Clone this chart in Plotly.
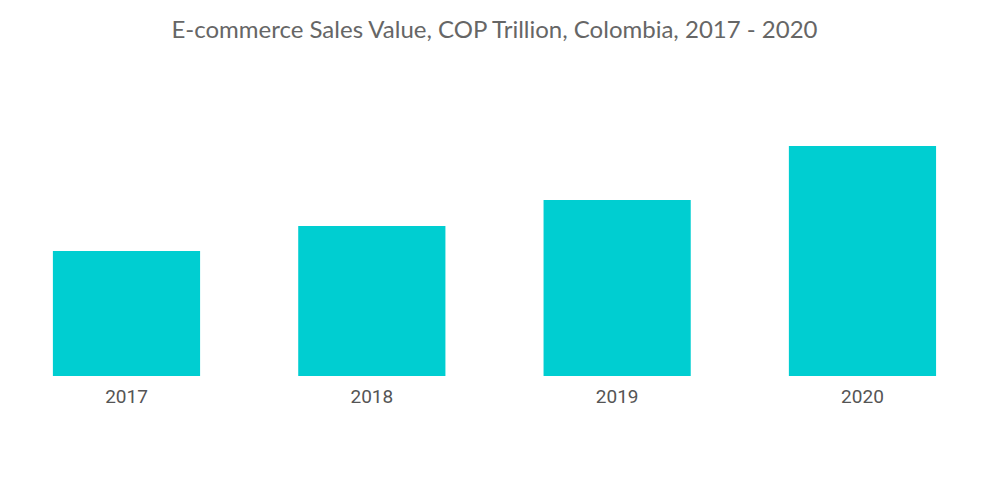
import plotly.graph_objects as go

# E-commerce sales value, COP trillion
years = ['2017', '2018', '2019', '2020']
sales = [12.5, 15.0, 17.6, 23.0]

fig = go.Figure()
fig.add_trace(go.Bar(x=years, y=sales, marker_color='#00CED1',
                     marker_line_width=0, hoverinfo='x+y'))

fig.update_layout(
    title=dict(text='E-commerce Sales Value, COP Trillion, Colombia, 2017 - 2020',
               x=0.4944, xanchor='center', y=0.955, yanchor='middle',
               font=dict(family='Lato', size=24, color='#666666')),
    paper_bgcolor='white', plot_bgcolor='white',
    margin=dict(l=0, r=0, t=100, b=120),
    bargap=0.4,
    showlegend=False,
)
fig.update_xaxes(showline=False, showgrid=False, ticks='',
                 range=[-0.483, 3.528], ticklabelstandoff=7,
                 tickfont=dict(family='Roboto', size=19, color='#555555'))
fig.update_yaxes(visible=False, range=[0, 26.8])

fig.write_html('out.html')
